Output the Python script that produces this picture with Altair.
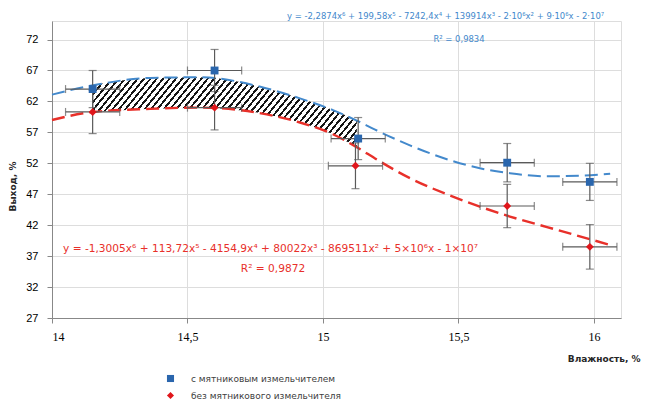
import altair as alt
import pandas as pd

# Measured points: humidity (%) and output (%) for the two machine variants
series_names = ["с мятниковым измельчителем", "без мятникового  измельчителя"]
humidity_with = [14.15, 14.60, 15.13, 15.68, 15.985]
output_with = [64.0, 67.0, 56.0, 52.1, 49.0]
yerr_with = [3.0, 3.4, 3.4, 3.1, 3.0]
humidity_without = [14.15, 14.60, 15.12, 15.68, 15.985]
output_without = [60.3, 61.0, 51.6, 45.1, 38.5]
yerr_without = [3.5, 3.6, 3.7, 3.5, 3.6]
xerr = 0.1

# Polynomial trend lines, sampled along the humidity axis
trend_x = [14.000, 14.151, 14.362, 14.546, 14.793, 14.915, 15.037, 15.125,
           15.199, 15.321, 15.469, 15.579, 15.690, 15.827, 15.948, 16.060]
trend_with = [63.1, 64.6, 65.8, 65.9, 64.1, 62.5, 60.6, 58.9,
              57.3, 54.9, 52.5, 51.2, 50.4, 49.9, 50.0, 50.3]
trend_without = [59.0, 60.3, 60.8, 61.0, 59.9, 58.6, 56.7, 54.6,
                 52.6, 49.6, 46.8, 45.0, 43.4, 41.7, 40.2, 38.8]
gain_from, gain_to = 14.151, 15.125

eq_with = "y = -2,2874x⁶ + 199,58x⁵ - 7242,4x⁴ + 139914x³ - 2·10⁶x² + 9·10⁶x - 2·10⁷"
r2_with = "R² = 0,9834"
eq_without = "y = -1,3005x⁶ + 113,72x⁵ - 4154,9x⁴ + 80022x³ - 869511x² + 5×10⁶x - 1×10⁷"
r2_without = "R² = 0,9872"

x_ticks = [14, 14.5, 15, 15.5, 16]
y_ticks = [27, 32, 37, 42, 47, 52, 57, 62, 67, 72]

BLUE_MARK = "#2a66ad"
BLUE_LINE = "#4389cc"
RED_MARK = "#e0161b"
RED_LINE = "#e8302a"
ERR = "#5a5a5a"
AXIS = "#bfbfbf"

points = pd.DataFrame({
    "series": [series_names[0]] * 5 + [series_names[1]] * 5,
    "hum": humidity_with + humidity_without,
    "out": output_with + output_without,
    "ye": yerr_with + yerr_without,
})
trend = pd.DataFrame({"hum": trend_x, "with": trend_with, "without": trend_without})

xs = alt.Scale(domain=[14, 16.1], nice=False, zero=False)
ys = alt.Scale(domain=[27, 75], nice=False, zero=False)
x_axis = alt.Axis(
    values=x_ticks, title="Влажность, %",
    labelExpr="replace(format(datum.value, '~g'), '.', ',')", labelOverlap=False,
    labelFont="Liberation Serif", labelFontSize=12, labelPadding=8,
    titleX=588, titleY=40, titleAlign="right", titleBaseline="middle",
    titleFont="DejaVu Sans", titleFontWeight="bold", titleFontSize=9, titleColor="#262626")
y_axis = alt.Axis(
    values=y_ticks, title="Выход, %", labelFontSize=11, labelPadding=9, labelOverlap=False,
    titleX=-40, titleY=165, titleAngle=270, titleAlign="center", titleBaseline="middle",
    titleFont="DejaVu Sans", titleFontWeight="bold", titleFontSize=9, titleColor="#262626")


def xq(field):
    return alt.X(f"{field}:Q", scale=xs, axis=x_axis)


def yq(field):
    return alt.Y(f"{field}:Q", scale=ys, axis=y_axis)


# Diagonal hatching for the gain between the two curves
n_stripes, ink = 52, 0.38
stops = []
for k in range(n_stripes):
    a = round(k / n_stripes, 5)
    b = round((k + ink) / n_stripes, 5)
    c = round((k + 1) / n_stripes, 5)
    stops += [{"offset": a, "color": "#161616"}, {"offset": b, "color": "#161616"},
              {"offset": b, "color": "#ffffff"}, {"offset": c, "color": "#ffffff"}]
hatch_fill = alt.Gradient(gradient="linear", x1=0, y1=0, x2=1.2, y2=0.26, stops=stops)

base_t = alt.Chart(trend)
hatch = base_t.transform_filter(
    (alt.datum.hum >= gain_from) & (alt.datum.hum <= gain_to)
).mark_area(interpolate="monotone", fill=hatch_fill).encode(
    x=xq("hum"), y=yq("with"), y2="without:Q")

line_with = base_t.mark_line(interpolate="monotone", color=BLUE_LINE, strokeWidth=2,
                             strokeDash=[13, 6]).encode(x=xq("hum"), y=yq("with"))
line_without = base_t.mark_line(interpolate="monotone", color=RED_LINE, strokeWidth=2.4,
                                strokeDash=[13, 6]).encode(x=xq("hum"), y=yq("without"))

base_p = alt.Chart(points).transform_calculate(
    lo="datum.out - datum.ye", hi="datum.out + datum.ye",
    xlo=f"datum.hum - {xerr}", xhi=f"datum.hum + {xerr}")
vbar = base_p.mark_rule(color=ERR, strokeWidth=1.2).encode(
    x=xq("hum"), y=yq("lo"), y2="hi:Q")
hbar = base_p.mark_rule(color=ERR, strokeWidth=1.2).encode(
    y=yq("out"), x=xq("xlo"), x2="xhi:Q")
cap_lo = base_p.mark_tick(color=ERR, orient="horizontal", size=8, thickness=1.2).encode(
    x=xq("hum"), y=yq("lo"))
cap_hi = base_p.mark_tick(color=ERR, orient="horizontal", size=8, thickness=1.2).encode(
    x=xq("hum"), y=yq("hi"))
cap_l = base_p.mark_tick(color=ERR, orient="vertical", size=8, thickness=1.2).encode(
    x=xq("xlo"), y=yq("out"))
cap_r = base_p.mark_tick(color=ERR, orient="vertical", size=8, thickness=1.2).encode(
    x=xq("xhi"), y=yq("out"))

legend = alt.Legend(title=None, orient="none", legendX=114, legendY=353, padding=0,
                    rowPadding=7, symbolSize=50, symbolStrokeWidth=0,
                    labelFont="DejaVu Sans", labelFontSize=9, labelColor="#404040",
                    labelOffset=16)
marks = base_p.mark_point(filled=True, opacity=1, size=62).encode(
    x=xq("hum"), y=yq("out"),
    color=alt.Color("series:N", scale=alt.Scale(domain=series_names, range=[BLUE_MARK, RED_MARK]),
                    legend=legend),
    shape=alt.Shape("series:N", scale=alt.Scale(domain=series_names, range=["square", "diamond"]),
                    legend=legend))


def label(text, x, y, color, size, align):
    return alt.Chart(pd.DataFrame({"t": [text]})).mark_text(
        font="DejaVu Sans", fontSize=size, color=color, align=align, baseline="middle"
    ).encode(text="t:N", x=alt.value(x), y=alt.value(y))


texts = [
    label(eq_with, 235, -5, BLUE_LINE, 8.45, "left"),
    label(r2_with, 407, 18, BLUE_LINE, 8.45, "center"),
    label(eq_without, 11, 228, RED_LINE, 10.6, "left"),
    label(r2_without, 221, 248, RED_LINE, 10.6, "center"),
]

chart = alt.layer(
    hatch, line_with, line_without, vbar, hbar, cap_lo, cap_hi, cap_l, cap_r, marks, *texts
).properties(
    width=569, height=297,
    autosize=alt.AutoSizeParams(type="none"),
    padding={"left": 52, "top": 21, "right": 26, "bottom": 86},
).configure_view(stroke=None).configure_axis(
    grid=False, domainColor=AXIS, tickColor=AXIS, tickSize=4,
    labelColor="#404040", labelFont="DejaVu Sans",
).configure_axisY(labelOverlap=False).configure(background="white")

chart.save("out.html", embed_options={"renderer": "svg", "actions": False})
